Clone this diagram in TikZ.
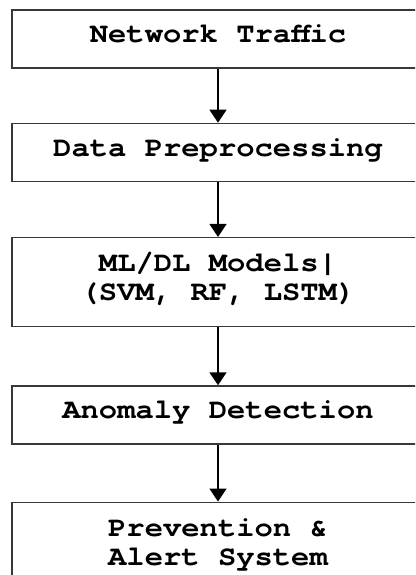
\documentclass[tikz,border=0pt]{standalone}
\usepackage{fontspec}
\setmonofont{texgyrecursor}[Extension=.otf,UprightFont=*-regular,BoldFont=*-bold,FakeStretch=1.09]
\usetikzlibrary{positioning,arrows.meta}

\begin{document}
\begin{tikzpicture}
		[x=1pt,y=-1pt,
		stage/.style={rectangle,draw=black!78,line width=1.3pt,minimum width=412pt,minimum height=58pt,inner sep=0pt,align=center,text height=18pt,text depth=10pt,font=\ttfamily\bfseries\fontsize{28}{29}\selectfont},
		tall/.style={minimum height=89pt,text height=50pt,text depth=13pt},
		flow/.style={-{Triangle[width=17pt,length=13pt]},line width=1.6pt},
		node distance=55pt]
		\useasboundingbox (0,0) rectangle (415,575);
		\clip (0,0) rectangle (415,575);
		\node[stage,name=traffic] at (218,39) {Network Traffic};
		\node[stage,name=prep,below=54pt of traffic] {Data Preprocessing};
		\node[stage,tall,name=models,below=of prep] {ML/DL Models|\\(SVM, RF, LSTM)};
		\node[stage,name=detect,below=58pt of models] {Anomaly Detection};
		\node[stage,tall,name=alert,below=57pt of detect] {Prevention \&\\Alert System};
		\foreach \a/\b in {traffic/prep,prep/models,models/detect,detect/alert}
		{
			\draw[flow] (\a.south) -- (\b.north);
		}
	\end{tikzpicture}
\end{document}
